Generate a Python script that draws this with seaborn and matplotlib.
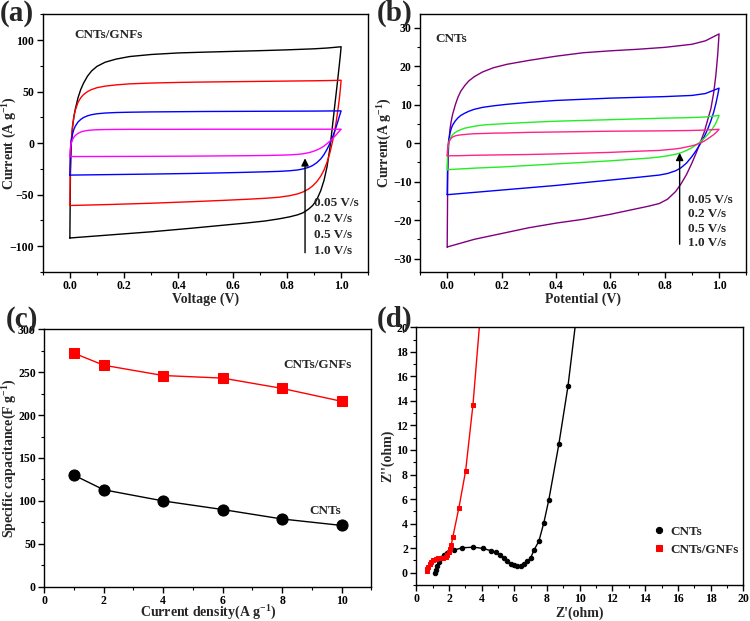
#!/usr/bin/env python3
# CV / rate / EIS four-panel figure, redrawn with seaborn
import numpy as np
import pandas as pd
import matplotlib
matplotlib.use("Agg")
import matplotlib.pyplot as plt
import matplotlib.ticker as mticker
import seaborn as sns

# ---------------- data ----------------

# anodic (upper) branch 0 -> 1 V and cathodic (lower) branch 1 -> 0 V sample points
up_x = [0.0, 0.002, 0.005, 0.01, 0.015, 0.02, 0.03, 0.04, 0.05, 0.065, 0.08, 0.1,
        0.13, 0.17, 0.22, 0.3, 0.4, 0.5, 0.6, 0.7, 0.8, 0.9, 0.95, 1.0]
a_dn_x = [1.0, 0.997, 0.993, 0.988, 0.982, 0.975, 0.967, 0.958, 0.948, 0.937, 0.925, 0.91,
          0.895, 0.88, 0.86, 0.84, 0.81, 0.77, 0.72, 0.65, 0.55, 0.45, 0.3, 0.15, 0.0]

# (a) CNTs/GNFs, current in A/g
a_black_up = [-92, -30, -2, 16, 26, 33, 44, 52, 58, 65, 70, 74.5,
              78.5, 81.5, 84, 86, 87.5, 88.3, 89, 89.7, 90.5, 91.5, 92.3, 93.5]
a_black_dn = [93.5, 85, 75, 63, 49, 33, 14, -6, -23, -36, -46, -55,
              -60.5, -64, -67.5, -69.5, -71.5, -73.5, -75.5, -77.5, -80, -82.5, -86, -89, -92]
a_red_up = [-60.5, -15, 3, 17, 26, 32, 39.5, 44, 47, 50, 52, 53.8,
            55.3, 56.5, 57.5, 58.3, 58.9, 59.3, 59.6, 59.9, 60.2, 60.5, 60.7, 61]
a_red_dn = [61, 52, 42, 32, 21, 10, 0, -10, -18.5, -26, -32, -37.5,
            -41.5, -44.5, -47.3, -49.2, -51, -52.5, -53.5, -54.5, -55.7, -56.8, -58.3, -59.5, -60.5]
a_blue_up = [-31, -8, 2, 9, 13.5, 16.5, 20.5, 23, 24.8, 26.5, 27.6, 28.5,
             29.2, 29.7, 30, 30.3, 30.5, 30.7, 30.8, 30.9, 31, 31.1, 31.2, 31.3]
a_blue_dn = [31.3, 29, 25.5, 21, 16, 10.5, 5, -0.5, -6, -11, -15.3, -19,
             -21.7, -23.5, -25, -26, -26.8, -27.4, -27.8, -28.3, -28.9, -29.4, -30, -30.5, -31]
a_mag_up = [-13, -4, 0, 3.5, 5.8, 7.4, 9.5, 10.8, 11.6, 12.3, 12.7, 13,
            13.2, 13.3, 13.4, 13.4, 13.4, 13.5, 13.5, 13.5, 13.5, 13.5, 13.5, 13.5]
a_mag_dn = [13.5, 12.7, 11.5, 10, 8.2, 6.2, 4, 1.8, -0.5, -2.8, -4.8, -6.7,
            -8.2, -9.3, -10.3, -10.9, -11.4, -11.7, -12, -12.2, -12.4, -12.6, -12.8, -12.9, -13]

# (b) CNTs
b_dn_x = [1.0, 0.995, 0.988, 0.98, 0.97, 0.958, 0.945, 0.93, 0.915, 0.9, 0.88, 0.86,
          0.84, 0.81, 0.78, 0.74, 0.7, 0.6, 0.5, 0.4, 0.3, 0.2, 0.1, 0.05, 0.0]
b_purple_up = [-27, -8, -1, 3.5, 5.8, 7.5, 10, 12, 13.5, 15, 16.2, 17.3,
               18.5, 19.6, 20.5, 21.5, 22.6, 23.5, 24, 24.4, 24.9, 25.7, 26.6, 28.4]
b_purple_dn = [28.4, 23, 17.5, 13, 9, 6, 2.8, 0, -2.7, -5.2, -8.2, -10.6,
               -12.6, -14.6, -15.7, -16.4, -17, -18.5, -19.8, -20.8, -22, -23.5, -25, -26, -27]
b_blue_up = [-13.4, -3, 0.5, 2.5, 3.8, 4.7, 5.8, 6.6, 7.2, 7.8, 8.3, 8.8,
             9.3, 9.7, 10.1, 10.6, 11.1, 11.4, 11.7, 11.9, 12.1, 12.4, 12.9, 14.3]
b_blue_dn = [14.3, 12.5, 10.2, 8, 5.8, 3.6, 1.6, -0.3, -2, -3.5, -5.2, -6.4,
             -7.2, -7.9, -8.3, -8.6, -8.9, -9.6, -10.3, -11, -11.6, -12.2, -12.8, -13.1, -13.4]
b_green_up = [-6.9, -1.5, 0, 1, 1.7, 2.2, 2.8, 3.2, 3.5, 3.9, 4.1, 4.4,
              4.7, 4.9, 5.1, 5.4, 5.7, 5.9, 6.1, 6.3, 6.5, 6.65, 6.8, 7.2]
b_green_dn = [7.2, 6.3, 5.2, 4.2, 3.2, 2.2, 1.2, 0.3, -0.5, -1.2, -1.9, -2.5,
              -2.9, -3.3, -3.6, -3.9, -4.1, -4.6, -5.0, -5.4, -5.8, -6.2, -6.5, -6.7, -6.9]
b_pink_up = [-3.3, -0.8, 0, 0.8, 1.3, 1.6, 1.9, 2.05, 2.15, 2.25, 2.35, 2.45,
             2.5, 2.6, 2.65, 2.8, 2.9, 3.0, 3.1, 3.15, 3.2, 3.3, 3.4, 3.6]
b_pink_dn = [3.6, 3.2, 2.7, 2.2, 1.7, 1.1, 0.5, 0, -0.4, -0.7, -1.0, -1.3,
             -1.5, -1.7, -1.9, -2.0, -2.1, -2.4, -2.6, -2.8, -2.95, -3.05, -3.15, -3.25, -3.3]

scan_rates = ["0.05 V/s", "0.2 V/s", "0.5 V/s", "1.0 V/s"]

# (c) rate capability
current_density = [1, 2, 4, 6, 8, 10]
cap_gnfs = [272, 258, 246, 243, 231, 216]
cap_cnts = [130, 113, 100, 90, 79, 71.5]

# (d) Nyquist plots
z_re_gnfs = [0.63, 0.67, 0.73, 0.82, 0.92, 1.04, 1.18, 1.33, 1.49, 1.65, 1.79, 1.9, 1.98,
             2.06, 2.14, 2.24, 2.61, 3.02, 3.47, 3.95]
z_im_gnfs = [0.14, 0.32, 0.49, 0.68, 0.86, 1.03, 1.14, 1.19, 1.19, 1.19, 1.27, 1.46, 1.68,
             1.95, 2.27, 2.93, 5.3, 8.3, 13.7, 21.5]
z_re_cnts = [1.14, 1.2, 1.28, 1.39, 1.53, 1.69, 1.9, 2.3, 2.81, 3.49, 4.08, 4.55, 4.85, 5.12,
             5.36, 5.57, 5.77, 5.97, 6.18, 6.38, 6.59, 6.79, 7.0, 7.2, 7.5, 7.8, 8.11, 8.72,
             9.28, 9.85]
z_im_cnts = [-0.02, 0.22, 0.54, 0.86, 1.22, 1.46, 1.62, 1.84, 2.03, 2.08, 1.98, 1.8, 1.68,
             1.46, 1.22, 0.95, 0.73, 0.59, 0.54, 0.57, 0.68, 0.92, 1.22, 1.84, 2.57, 4.05,
             5.95, 10.46, 15.2, 21.5]

# ---------------- style ----------------
sns.set_theme(style="ticks")
plt.rcParams["font.family"] = ["Liberation Serif", "DejaVu Serif"]
plt.rcParams["font.weight"] = "bold"
plt.rcParams["axes.labelweight"] = "bold"
plt.rcParams["mathtext.fontset"] = "custom"
plt.rcParams["mathtext.rm"] = "Liberation Serif:bold"
plt.rcParams["mathtext.bf"] = "Liberation Serif:bold"
plt.rcParams["mathtext.default"] = "bf"
plt.rcParams["axes.edgecolor"] = "black"
plt.rcParams["xtick.color"] = "black"
plt.rcParams["ytick.color"] = "black"

TICK_FS = 8.5
LABEL_FS = 10
NOTE_FS = 9.5


def style_axes(ax, xmajor, xminor, ymajor, yminor, ylab_x=-0.1, xlab_y=-0.105):
    ax.xaxis.set_major_locator(mticker.MultipleLocator(xmajor))
    ax.xaxis.set_minor_locator(mticker.MultipleLocator(xminor))
    ax.yaxis.set_major_locator(mticker.MultipleLocator(ymajor))
    ax.yaxis.set_minor_locator(mticker.MultipleLocator(yminor))
    ax.tick_params(which="major", direction="out", length=4, width=1, labelsize=TICK_FS,
                   top=False, right=False, pad=2)
    ax.tick_params(which="minor", direction="out", length=2.2, width=0.8, top=False, right=False)
    for lab in ax.get_xticklabels() + ax.get_yticklabels():
        lab.set_fontweight("bold")
    for s in ax.spines.values():
        s.set_visible(True)
        s.set_linewidth(1.0)
    # label centres placed where the reference has them
    ax.yaxis.set_label_coords(ylab_x, 0.5)
    ax.xaxis.set_label_coords(0.5, xlab_y)
    ax.yaxis.label.set_va("center")
    ax.xaxis.label.set_va("center")


def cv_loop(ax, ux, uy, dx, dy, color):
    df = pd.DataFrame({"V": list(ux) + list(dx), "I": list(uy) + list(dy)})
    sns.lineplot(data=df, x="V", y="I", sort=False, estimator=None, color=color, lw=1.0, ax=ax)


fig = plt.figure(figsize=(7.5, 6.21), dpi=100)

# ---- (a) ----
ax_a = fig.add_axes([0.057, 0.562, 0.434, 0.415])
for up, dn, c in [(a_black_up, a_black_dn, "black"), (a_red_up, a_red_dn, "#ff0000"),
                  (a_blue_up, a_blue_dn, "#0000ff"), (a_mag_up, a_mag_dn, "#ff00ff")]:
    cv_loop(ax_a, up_x, up, a_dn_x, dn, c)
ax_a.set_xlim(-0.1, 1.1)
ax_a.set_ylim(-125, 125)
ax_a.set_xlabel("Voltage (V)", fontsize=LABEL_FS)
ax_a.set_ylabel(r"Current (A g$^{-1}$)", fontsize=LABEL_FS)
style_axes(ax_a, 0.2, 0.1, 50, 25, ylab_x=-0.1)
ax_a.text(0.015, 105, "CNTs/GNFs", fontsize=NOTE_FS, fontweight="bold", va="center")
ax_a.annotate("", xy=(0.867, -12), xytext=(0.867, -109),
              arrowprops=dict(arrowstyle="-|>", color="black", lw=1.0, mutation_scale=11))
ax_a.text(0.9, -52, "\n".join(scan_rates), fontsize=NOTE_FS, fontweight="bold",
          va="top", ha="left", linespacing=1.45)

# ---- (b) ----
ax_b = fig.add_axes([0.56, 0.562, 0.435, 0.415])
for up, dn, c in [(b_purple_up, b_purple_dn, "#800080"), (b_blue_up, b_blue_dn, "#0000ff"),
                  (b_green_up, b_green_dn, "#22ee22"), (b_pink_up, b_pink_dn, "#ff2288")]:
    cv_loop(ax_b, up_x, up, b_dn_x, dn, c)
ax_b.set_xlim(-0.1, 1.1)
ax_b.set_ylim(-33.5, 33.5)
ax_b.set_xlabel("Potential (V)", fontsize=LABEL_FS)
ax_b.set_ylabel(r"Current(A g$^{-1}$)", fontsize=LABEL_FS)
style_axes(ax_b, 0.2, 0.1, 10, 5, ylab_x=-0.107)
ax_b.text(-0.045, 27.1, "CNTs", fontsize=NOTE_FS, fontweight="bold", va="center")
ax_b.annotate("", xy=(0.855, -1.8), xytext=(0.855, -27),
              arrowprops=dict(arrowstyle="-|>", color="black", lw=1.0, mutation_scale=11))
ax_b.text(0.885, -13.2, "\n".join(scan_rates), fontsize=NOTE_FS, fontweight="bold",
          va="top", ha="left", linespacing=1.27)

# ---- (c) ----
ax_c = fig.add_axes([0.059, 0.055, 0.436, 0.415])
sns.lineplot(x=current_density, y=cap_gnfs, color="#ff0000", lw=1.0, marker="s",
             markersize=7, markeredgecolor="#ff0000", ax=ax_c)
sns.lineplot(x=current_density, y=cap_cnts, color="black", lw=1.0, marker="o",
             markersize=8, markeredgecolor="black", ax=ax_c)
ax_c.set_xlim(0, 11)
ax_c.set_ylim(0, 300)
ax_c.set_xlabel(r"Current density(A g$^{-1}$)", fontsize=LABEL_FS)
ax_c.set_ylabel(r"Specific capacitance(F g$^{-1}$)", fontsize=LABEL_FS)
style_axes(ax_c, 2, 1, 50, 25, ylab_x=-0.104, xlab_y=-0.1)
ax_c.text(9.2, 258, "CNTs/GNFs", fontsize=NOTE_FS, fontweight="bold", ha="center", va="center")
ax_c.text(9.45, 88, "CNTs", fontsize=NOTE_FS, fontweight="bold", ha="center", va="center")

# ---- (d) ----
ax_d = fig.add_axes([0.555, 0.058, 0.436, 0.415])
sns.lineplot(x=z_re_cnts, y=z_im_cnts, sort=False, estimator=None, color="black", lw=1.0,
             marker="o", markersize=3.2, markeredgecolor="black", label="CNTs", ax=ax_d)
sns.lineplot(x=z_re_gnfs, y=z_im_gnfs, sort=False, estimator=None, color="#ff0000", lw=1.0,
             marker="s", markersize=3, markeredgecolor="#ff0000", label="CNTs/GNFs", ax=ax_d)
ax_d.set_xlim(0, 20)
ax_d.set_ylim(-1, 20)
ax_d.set_xlabel("Z'(ohm)", fontsize=LABEL_FS)
ax_d.set_ylabel("Z''(ohm)", fontsize=LABEL_FS)
style_axes(ax_d, 2, 1, 2, 1, ylab_x=-0.086, xlab_y=-0.108)
leg = ax_d.legend(loc="center left", bbox_to_anchor=(0.695, 0.172), frameon=False,
                  fontsize=NOTE_FS, handlelength=0.6, handletextpad=0.5, labelspacing=0.45,
                  markerscale=1.4)
for h in leg.legend_handles:
    h.set_linestyle("none")
for t in leg.get_texts():
    t.set_fontweight("bold")

# ---- panel letters ----
for x, y, s in [(0.0, 1.0, "(a)"), (0.502, 1.0, "(b)"), (0.008, 0.508, "(c)"), (0.502, 0.508, "(d)")]:
    fig.text(x, y, s, fontsize=21, fontweight="bold", va="top", ha="left")

fig.savefig("out.png", dpi=100)
